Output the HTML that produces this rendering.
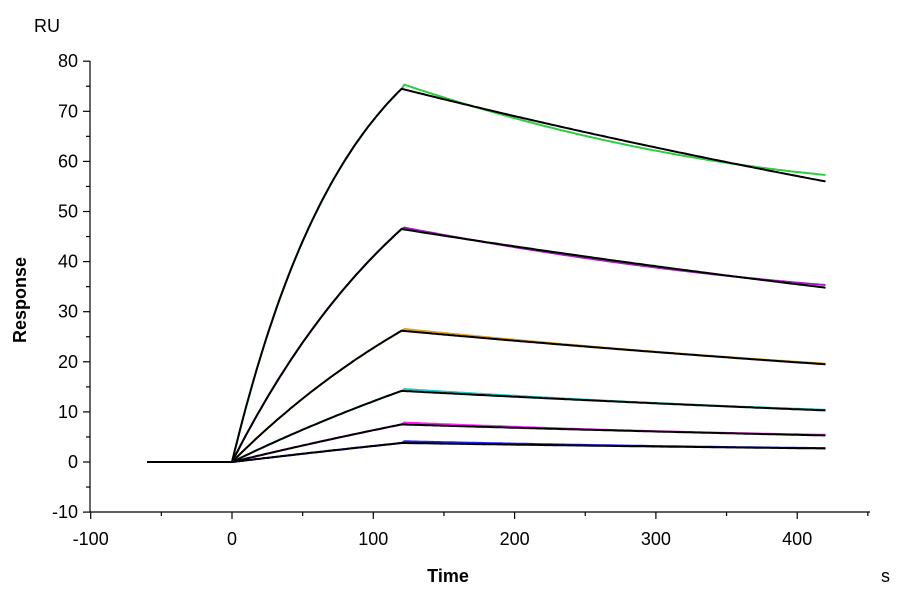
<!DOCTYPE html>
<html><head><style>
body{margin:0;background:#fff;}
svg text{font-family:"Liberation Sans",Arial,sans-serif;fill:#000;}
</style></head><body>
<svg id="s" width="900" height="600" xmlns="http://www.w3.org/2000/svg">
<rect width="900" height="600" fill="#fff"/>
<g stroke="#000" stroke-width="1.2" fill="none">
<line x1="90" y1="61" x2="90" y2="512"/>
<line x1="90" y1="512" x2="870" y2="512"/>
</g>
<g id="ticks" stroke="#000" stroke-width="1.2"></g>
<g font-size="18" text-anchor="end" id="yl"></g>
<g font-size="18" text-anchor="middle" id="xl"></g>
<text x="34" y="32" font-size="18">RU</text>
<text x="26" y="300" font-size="18" font-weight="bold" text-anchor="middle" transform="rotate(-90 26 300)">Response</text>
<text x="448" y="582" font-size="18" font-weight="bold" text-anchor="middle">Time</text>
<text x="881" y="582" font-size="18">s</text>
<g id="curves" fill="none" stroke-width="2"></g>
</svg>
<script>
var X=function(t){return 232+1.413*t;},Y=function(r){return 462-5.01*r;};
var ns="http://www.w3.org/2000/svg",tk=document.getElementById('ticks');
function ln(x1,y1,x2,y2){var l=document.createElementNS(ns,'line');l.setAttribute('x1',x1);l.setAttribute('y1',y1);l.setAttribute('x2',x2);l.setAttribute('y2',y2);tk.appendChild(l);}
function tx(g,x,y,s){var t=document.createElementNS(ns,'text');t.setAttribute('x',x);t.setAttribute('y',y);t.textContent=s;document.getElementById(g).appendChild(t);}
for(var v=-10;v<=80;v+=5){var y=Y(v);ln(v%10==0?83:86,y,90,y);if(v%10==0)tx('yl',78,y+6,v);}
for(var t=-100;t<=450;t+=50){var x=X(t);ln(x,512,x,t%100==0?519:516);if(t%100==0)tx('xl',x,545,t);}
var S=[[74.5,0.012,56,'#2ecc40',1],[46.5,0.0065,34.8,'#a020c0',0.4],[26.2,0.0045,19.5,'#e0a020',0.1],[14.2,0.0025,10.3,'#20c8c8',0.1],[7.5,0.0015,5.3,'#ff20ff',0.1],[3.8,0.001,2.7,'#2020ff',0.05]];
var cg=document.getElementById('curves');
function path(pts,c,w){var p=document.createElementNS(ns,'path');p.setAttribute('d','M'+pts.join('L'));p.setAttribute('stroke',c);p.setAttribute('stroke-width',w);cg.appendChild(p);}
var data=[],fit=[];
S.forEach(function(s){var R=s[0],k=s[1],kd=Math.log(R/s[2])/300,m=s[4];
 function f(t){if(t<=0)return 0;if(t<=120)return R*(1-Math.exp(-k*t))/(1-Math.exp(-k*120));return R*Math.exp(-kd*(t-120));}
 var a=[],b=[];
 for(var t=-60;t<=420;t+=2){var r=f(t);b.push(X(t).toFixed(1)+','+Y(r).toFixed(1));
  var d=r;if(t>120){var u=(t-120)/300;d=r+m*(1-7.28*u+7.58*u*u)+(m<0.2?0.3*(1-u):0);}
  a.push(X(t).toFixed(1)+','+Y(d).toFixed(1));}
 data.push([a,s[3]]);fit.push(b);});
data.forEach(function(d){path(d[0],d[1],2);});
fit.forEach(function(b){path(b,'#000',2);});
</script>
</body></html>
